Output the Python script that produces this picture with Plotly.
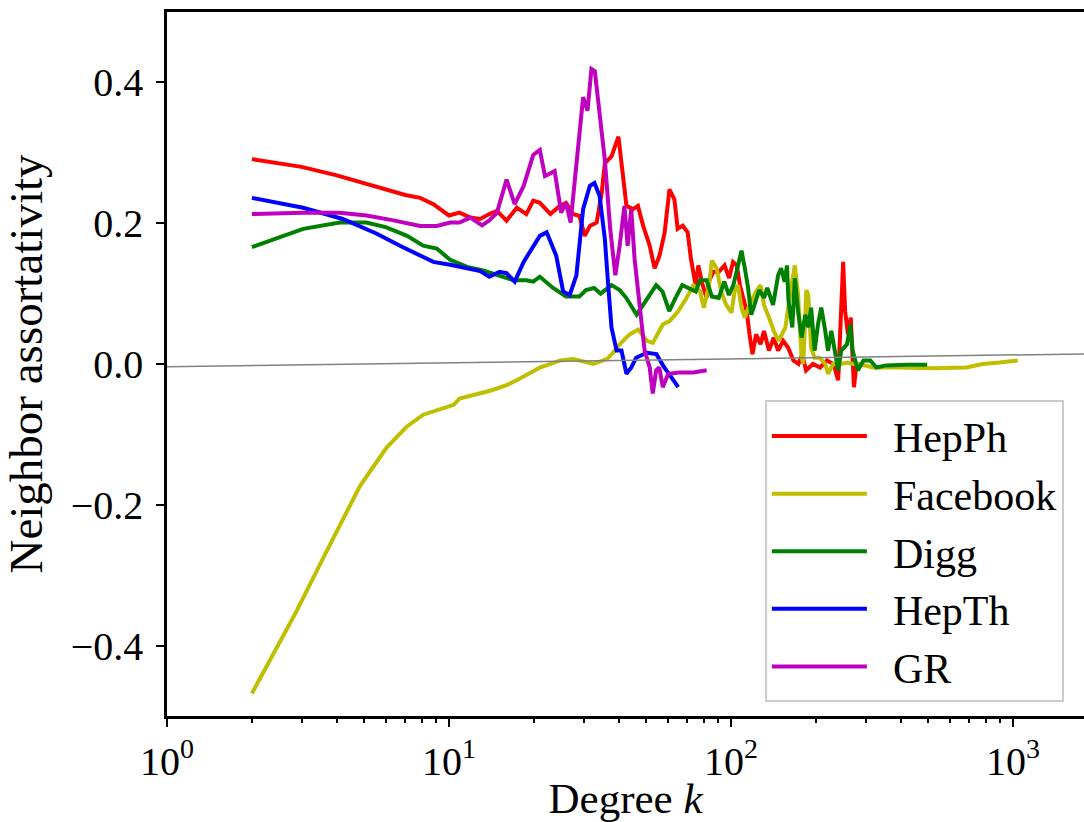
import plotly.graph_objects as go

# ---------------- data ----------------
hepph_k = [2, 3, 4, 5, 6, 7, 7.9, 8.8, 10, 10.9, 11.9, 12.9, 13.9, 14.8, 16, 17.4, 18.8, 19.9,
           21, 22.9, 24.7, 26, 27.5, 29, 30.3, 31.6, 33.4, 34.8, 35.7, 37.7, 39.9, 40.9, 42.6,
           44.9, 46.8, 48.8, 51.5, 53.6, 55.8, 58.2, 60.5, 63, 64.7, 67.4, 70.2, 72.1, 74.9,
           76.6, 79, 81.9, 84, 86.6, 90.6, 94.9, 98.5, 101.7, 104.9, 107.6, 110, 113.7, 116.4,
           119.2, 122.8, 127.3, 130.9, 136.4, 141.7, 147, 153.2, 159.5, 166.5, 173.6, 179,
           184.6, 195.3, 207, 219, 231, 240, 246, 250, 254, 260, 266, 269.6, 273, 278]
hepph_y = [0.291, 0.280, 0.268, 0.257, 0.247, 0.240, 0.236, 0.227, 0.211, 0.215, 0.208, 0.206,
           0.213, 0.2175, 0.2035, 0.222, 0.213, 0.232, 0.229, 0.213, 0.2246, 0.229, 0.213, 0.2105,
           0.182, 0.196, 0.201, 0.243, 0.285, 0.295, 0.323, 0.281, 0.2246, 0.220, 0.2246, 0.1965,
           0.168, 0.136, 0.154, 0.187, 0.248, 0.234, 0.192, 0.1965, 0.187, 0.150, 0.112, 0.140,
           0.115, 0.094, 0.120, 0.131, 0.131, 0.140, 0.122, 0.145, 0.140, 0.112, 0.095, 0.075,
           0.042, 0.014, 0.042, 0.028, 0.047, 0.019, 0.0375, 0.019, 0.033, 0.023, 0.005, 0.000,
           0.014, -0.009, 0.000, -0.005, 0.005, 0.000, -0.023, 0.066, 0.145, 0.075, 0.042, 0.066,
           0.000, -0.033, -0.005]

facebook_k = [2, 2.88, 3.78, 4.84, 6, 7.08, 8.1, 9.55, 10.4, 10.9, 12, 14, 16, 18, 21, 24.8,
              27.6, 32.5, 36.3, 38.2, 40.3, 43.7, 46.9, 50.3, 52.8, 57.3, 60.6, 65, 69.6, 73.6,
              77.7, 80.1, 83.6, 85.6, 88.9, 92.4, 96.2, 100.4, 103, 105.9, 109, 112, 116.4,
              122.8, 127.3, 131, 136.4, 141.8, 147.5, 156, 164, 168.5, 173, 175.8, 178, 180.5,
              185, 188, 192.5, 198, 206, 216, 221, 230, 245, 258, 270, 286, 303, 318, 397,
              522, 684, 781, 897, 1040]
facebook_y = [-0.468, -0.351, -0.257, -0.173, -0.119, -0.089, -0.072, -0.063, -0.058, -0.049,
              -0.045, -0.038, -0.030, -0.020, -0.005, 0.005, 0.007, 0.000, 0.007, 0.016, 0.028,
              0.042, 0.049, 0.033, 0.030, 0.056, 0.061, 0.075, 0.094, 0.112, 0.103, 0.080,
              0.112, 0.147, 0.136, 0.103, 0.084, 0.073, 0.103, 0.112, 0.080, 0.066, 0.084,
              0.103, 0.112, 0.084, 0.066, 0.047, 0.033, 0.052, 0.112, 0.140, 0.098, 0.056,
              0.009, 0.000, 0.105, 0.098, 0.023, 0.009, 0.009, 0.000, -0.014, 0.000, 0.000,
              0.002, 0.000, 0.000, -0.002, -0.005, -0.005, -0.006, -0.005, 0.000, 0.002, 0.005]

digg_k = [2, 3.04, 4.1, 5.1, 6, 7.1, 8.1, 9.05, 10.1, 11.6, 13.2, 15.1, 16.9, 18.8, 19.9, 21,
          23.4, 26, 29, 30.6, 32.7, 34.5, 37.7, 40.3, 42.5, 46.3, 48.8, 51.5, 54.3, 57.2, 60.4,
          63.6, 67.2, 70.6, 75, 77.7, 82, 85.5, 90.5, 94.7, 98.3, 102, 106, 109, 112, 115, 118,
          121, 126, 131, 134.5, 141, 147, 150.6, 155, 158, 160, 165, 168.5, 173, 178, 183.5,
          188, 192.5, 198, 203.5, 209, 215, 221, 227, 233, 240, 246, 258, 265, 270, 278, 282,
          295, 312, 328, 355, 420, 496]
digg_y = [0.166, 0.192, 0.201, 0.201, 0.194, 0.182, 0.168, 0.164, 0.148, 0.138, 0.133, 0.126,
          0.119, 0.119, 0.117, 0.124, 0.108, 0.096, 0.096, 0.105, 0.108, 0.100, 0.112, 0.105,
          0.094, 0.070, 0.084, 0.098, 0.112, 0.103, 0.075, 0.094, 0.112, 0.108, 0.103, 0.119,
          0.119, 0.096, 0.094, 0.117, 0.098, 0.112, 0.140, 0.161, 0.136, 0.108, 0.070, 0.084,
          0.105, 0.094, 0.108, 0.084, 0.126, 0.136, 0.117, 0.140, 0.089, 0.052, 0.122, 0.075,
          0.0375, 0.070, 0.052, 0.080, 0.019, 0.056, 0.080, 0.052, 0.019, 0.047, 0.023, -0.009,
          0.019, 0.028, 0.056, 0.019, 0.000, -0.009, 0.005, 0.005, -0.005, -0.002, -0.001, -0.001]

hepth_k = [2, 3.04, 4.2, 5.55, 6.7, 7.7, 8.8, 10.1, 11.6, 12.9, 13.9, 15.1, 16, 17.1, 18.4,
           19.9, 21, 22.2, 24, 25.4, 26.8, 28.3, 29.9, 31.6, 32.8, 34.2, 35.7, 36.7, 37.7, 39.3,
           40.9, 42.6, 44.3, 46.1, 50.3, 54.4, 58, 61.5, 65]
hepth_y = [0.236, 0.222, 0.206, 0.185, 0.168, 0.157, 0.145, 0.141, 0.136, 0.132, 0.124, 0.131,
           0.129, 0.117, 0.145, 0.168, 0.182, 0.187, 0.154, 0.103, 0.098, 0.126, 0.220, 0.253,
           0.257, 0.239, 0.178, 0.112, 0.052, 0.019, 0.019, -0.014, -0.005, 0.009, 0.016, 0.014,
           -0.005, -0.019, -0.033]

gr_k = [2, 3.04, 4.1, 5.1, 6.35, 7.9, 9.05, 10.1, 10.9, 11.9, 13.1, 13.9, 14.8, 16, 17.1, 18.4,
        19.9, 21, 21.9, 23.7, 25, 26, 27, 28.8, 29.9, 31, 32, 32.9, 34.2, 35.7, 37.3, 38.9,
        40.3, 41.9, 43, 44.3, 45.5, 47.5, 49.4, 51.5, 52.8, 54.3, 55.7, 57.3, 59.9, 65.5, 73.6, 82]
gr_y = [0.213, 0.215, 0.215, 0.211, 0.204, 0.196, 0.196, 0.201, 0.201, 0.208, 0.197, 0.204,
        0.215, 0.262, 0.227, 0.253, 0.297, 0.304, 0.267, 0.274, 0.215, 0.229, 0.201, 0.309,
        0.379, 0.360, 0.419, 0.416, 0.360, 0.290, 0.192, 0.126, 0.168, 0.2246, 0.168, 0.220,
        0.150, 0.080, 0.019, -0.005, -0.042, -0.009, -0.005, -0.033, -0.014, -0.012, -0.012,
        -0.009]

trend_k = [1, 1786]
trend_y = [-0.004, 0.0143]

series_names = ["HepPh", "Facebook", "Digg", "HepTh", "GR"]
series_k = [hepph_k, facebook_k, digg_k, hepth_k, gr_k]
series_y = [hepph_y, facebook_y, digg_y, hepth_y, gr_y]
series_colors = ["#FF0000", "#BFBF00", "#008000", "#0000FF", "#BF00BF"]

x_tickvals = [1, 10, 100, 1000]
x_ticktext = ["10<sup>0</sup>", "10<sup>1</sup>", "10<sup>2</sup>", "10<sup>3</sup>"]
x_minor_vals = [d * 10 ** e for e in range(0, 4) for d in range(2, 10)]
y_tickvals = [-0.4, -0.2, 0.0, 0.2, 0.4]
y_ticktext = ["\u22120.4", "\u22120.2", "0.0", "0.2", "0.4"]

# ---------------- figure ----------------
FONT = "Liberation Serif"
fig = go.Figure()
for name, kk, yy, col in zip(series_names, series_k, series_y, series_colors):
    fig.add_trace(go.Scatter(x=kk, y=yy, mode="lines", name="\u2002" + name, legendgroup=name,
                             line=dict(color=col, width=4)))
fig.add_trace(go.Scatter(x=trend_k, y=trend_y, mode="lines", showlegend=False,
                         line=dict(color="#808080", width=1.5), hoverinfo="skip"))

fig.update_layout(
    width=1084, height=822,
    margin=dict(l=167, r=0, t=12, b=101),
    paper_bgcolor="white", plot_bgcolor="white",
    font=dict(family=FONT, size=40, color="black"),
    showlegend=True,
    legend=dict(x=0.652, y=0.4485, xanchor="left", yanchor="top",
                bgcolor="white", bordercolor="#cccccc", borderwidth=2,
                font=dict(family=FONT, size=42), itemwidth=95,
                tracegroupgap=7, traceorder="normal"),
    xaxis=dict(type="log", range=[0, 3.252], showgrid=False, zeroline=False,
               showline=True, linecolor="black", linewidth=2.5, mirror=True,
               ticks="outside", ticklen=8, tickwidth=2, tickcolor="black",
               tickvals=x_tickvals, ticktext=x_ticktext,
               minor=dict(ticks="outside", ticklen=4, tickwidth=1.5, tickcolor="black",
                          tickvals=x_minor_vals, showgrid=False),
               title=dict(text="Degree <i>k</i>", standoff=8,
                          font=dict(family=FONT, size=43))),
    yaxis=dict(range=[-0.5, 0.5], showgrid=False, zeroline=False,
               showline=True, linecolor="black", linewidth=2.5,
               ticks="outside", ticklen=8, tickwidth=2, tickcolor="black",
               ticklabelstandoff=5,
               tickvals=y_tickvals, ticktext=y_ticktext,
               title=dict(text="Neighbor assortativity", standoff=16,
                          font=dict(family=FONT, size=47))),
)

fig.write_html("out.html")
